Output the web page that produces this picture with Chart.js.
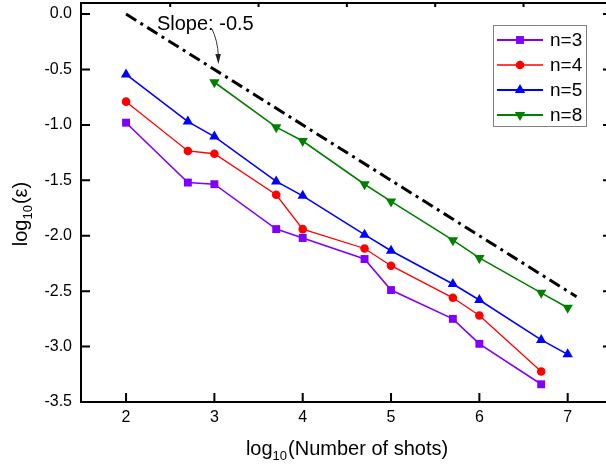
<!DOCTYPE html>
<html>
<head>
<meta charset="utf-8">
<script src="https://cdn.jsdelivr.net/npm/chart.js@4.4.1/dist/chart.umd.min.js"></script>
<style>
    html, body { margin: 0; padding: 0; background: #fff; overflow: hidden; }
    #wrap { width: 608px; height: 466px; }
</style>
</head>
<body>
<div id="wrap"><canvas id="errChart" width="608" height="466"></canvas></div>
<script>
// Data (log10 of shots vs log10 of error)
const shotsLog = [2, 2.7, 3, 3.7, 4, 4.7, 5, 5.7, 6, 6.7, 7];
const errN3 = [-0.98, -1.52, -1.535, -1.94, -2.02, -2.21, -2.49, -2.75, -2.975, -3.34];
const errN4 = [-0.79, -1.235, -1.26, -1.63, -1.94, -2.115, -2.27, -2.56, -2.72, -3.225];
const errN5 = [-0.545, -0.97, -1.105, -1.51, -1.64, -1.99, -2.135, -2.435, -2.58, -2.94, -3.07];
const errN8 = [-0.615, -1.02, -1.145, -1.535, -1.69, -2.04, -2.2, -2.515, -2.65];
const slopeX = [2, 7.1];
const slopeY = [0, -2.55];

const xTicks = [2, 3, 4, 5, 6, 7];
const xTopTicks = [2.5, 3.5, 4.5, 5.5, 6.5];
const yTicks = [0, -0.5, -1.0, -1.5, -2.0, -2.5, -3.0, -3.5];

const FONT = "'Liberation Sans', Arial, sans-serif";

function pts(xs, ys) {
    return ys.map((y, i) => ({ x: xs[i], y: y }));
}

const series = [
    { label: 'n=3', color: '#8000ff', style: 'rect', radius: 5.6, rot: 0, width: 1.6, xs: shotsLog, ys: errN3 },
    { label: 'n=4', color: '#ff0000', style: 'circle', radius: 4.3, rot: 0, width: 1.3, xs: shotsLog, ys: errN4 },
    { label: 'n=5', color: '#0000ff', style: 'triangle', radius: 6, rot: 0, width: 1.6, xs: shotsLog, ys: errN5 },
    { label: 'n=8', color: '#008000', style: 'triangle', radius: 6, rot: 180, width: 1.6, xs: shotsLog.slice(2), ys: errN8 }
];

const datasets = series.map(s => ({
    label: s.label,
    data: pts(s.xs, s.ys),
    showLine: true,
    borderColor: s.color,
    backgroundColor: s.color,
    borderWidth: s.width,
    pointStyle: s.style,
    pointRadius: s.radius,
    pointRotation: s.rot,
    pointBorderWidth: 0,
    pointHoverRadius: s.radius,
    tension: 0
}));

datasets.push({
    label: 'slope',
    data: pts(slopeX, slopeY),
    showLine: true,
    borderColor: '#000',
    borderWidth: 3,
    borderDash: [12, 5, 3, 5],
    pointRadius: 0,
    tension: 0
});

// no extra room for overhanging tick labels
function noPad(s) {
    s.paddingLeft = 0;
    s.paddingRight = 0;
    s.paddingTop = 0;
    s.paddingBottom = 0;
}

// frame, inward ticks, titles, annotation and legend
const decor = {
    id: 'decor',
    afterDraw(chart) {
        const ctx = chart.ctx;
        const a = chart.chartArea;
        const xs = chart.scales.x, ys = chart.scales.y;
        ctx.save();
        ctx.strokeStyle = '#000';
        ctx.lineWidth = 2;
        ctx.strokeRect(a.left, a.top, a.right - a.left, a.bottom - a.top);

        ctx.beginPath();
        xTicks.forEach(v => {
            const px = xs.getPixelForValue(v);
            ctx.moveTo(px, a.bottom);
            ctx.lineTo(px, a.bottom - 9);
        });
        xTopTicks.forEach(v => {
            const px = xs.getPixelForValue(v);
            ctx.moveTo(px, a.top);
            ctx.lineTo(px, a.top + 4);
        });
        yTicks.forEach(v => {
            const py = ys.getPixelForValue(v);
            ctx.moveTo(a.left, py);
            ctx.lineTo(a.left + 9, py);
            ctx.moveTo(a.right, py);
            ctx.lineTo(a.right - 4, py);
        });
        ctx.stroke();

        // axis titles with subscript 10
        ctx.fillStyle = '#000';
        function subTitle(post) {
            ctx.font = '20px ' + FONT;
            const w1 = ctx.measureText('log').width;
            const w3 = ctx.measureText(post).width;
            ctx.font = '13px ' + FONT;
            const w2 = ctx.measureText('10').width + 1;
            let x = -(w1 + w2 + w3) / 2;
            ctx.textAlign = 'left';
            ctx.textBaseline = 'alphabetic';
            ctx.font = '20px ' + FONT;
            ctx.fillText('log', x, 0);
            x += w1;
            ctx.font = '13px ' + FONT;
            ctx.fillText('10', x, 5);
            x += w2;
            ctx.font = '20px ' + FONT;
            ctx.fillText(post, x, 0);
        }
        ctx.save();
        ctx.translate(347, 455);
        subTitle('(Number of shots)');
        ctx.restore();
        ctx.save();
        ctx.translate(27, 214);
        ctx.rotate(-Math.PI / 2);
        subTitle('(\u03b5)');
        ctx.restore();

        // slope annotation
        ctx.font = '20px ' + FONT;
        ctx.textAlign = 'left';
        ctx.fillText('Slope: -0.5', xs.getPixelForValue(2.35), ys.getPixelForValue(-0.14));
        const ax0 = xs.getPixelForValue(2.97), ay0 = ys.getPixelForValue(-0.13);
        const ax1 = xs.getPixelForValue(3.045), ay1 = ys.getPixelForValue(-0.45);
        ctx.strokeStyle = '#333';
        ctx.lineWidth = 1;
        ctx.beginPath();
        ctx.moveTo(ax0, ay0);
        ctx.quadraticCurveTo(ax0 + 6, ay0 + 12, ax1, ay1 - 8);
        ctx.stroke();
        ctx.fillStyle = '#222';
        ctx.beginPath();
        ctx.moveTo(ax1, ay1);
        ctx.lineTo(ax1 - 3, ay1 - 10);
        ctx.lineTo(ax1 + 2.5, ay1 - 10);
        ctx.closePath();
        ctx.fill();

        // legend box
        ctx.strokeStyle = '#808080';
        ctx.lineWidth = 1;
        ctx.strokeRect(493.5, 25.5, 93, 101);
        const rowY = [40, 65, 90, 115];
        series.forEach((s, i) => {
            const y = rowY[i];
            ctx.strokeStyle = s.color;
            ctx.lineWidth = s.width + 0.4;
            ctx.beginPath();
            ctx.moveTo(497, y);
            ctx.lineTo(543, y);
            ctx.stroke();
            ctx.fillStyle = s.color;
            Chart.helpers.drawPoint(ctx, {
                pointStyle: s.style, radius: s.radius, rotation: s.rot, borderWidth: 0
            }, 520, y);
            ctx.fillStyle = '#000';
            ctx.font = '19px ' + FONT;
            ctx.textBaseline = 'middle';
            ctx.fillText(s.label, 550, y + 1);
            ctx.textBaseline = 'alphabetic';
        });
        ctx.restore();
    }
};

new Chart(document.getElementById('errChart').getContext('2d'), {
    type: 'scatter',
    data: { datasets: datasets },
    options: {
        responsive: false,
        animation: false,
        devicePixelRatio: 1,
        layout: { autoPadding: false, padding: { top: 3, right: 1, left: 0, bottom: 0 } },
        plugins: {
            legend: { display: false },
            tooltip: { enabled: false }
        },
        scales: {
            x: {
                type: 'linear',
                min: 1.49,
                max: 7.445,
                afterBuildTicks: s => { s.ticks = xTicks.map(v => ({ value: v })); },
                afterFit: s => { s.height = 64; noPad(s); },
                grid: { display: false, drawTicks: false },
                border: { display: false },
                ticks: {
                    padding: 6,
                    maxRotation: 0,
                    color: '#000',
                    font: { family: FONT, size: 16 },
                    callback: v => String(v)
                }
            },
            y: {
                type: 'linear',
                min: -3.5,
                max: 0.1,
                afterBuildTicks: s => { s.ticks = yTicks.map(v => ({ value: v })); },
                afterFit: s => { s.width = 81; noPad(s); },
                grid: { display: false, drawTicks: false },
                border: { display: false },
                ticks: {
                    padding: 9,
                    color: '#000',
                    font: { family: FONT, size: 16 },
                    callback: v => v.toFixed(1)
                }
            }
        }
    },
    plugins: [decor]
});
</script>
</body>
</html>
